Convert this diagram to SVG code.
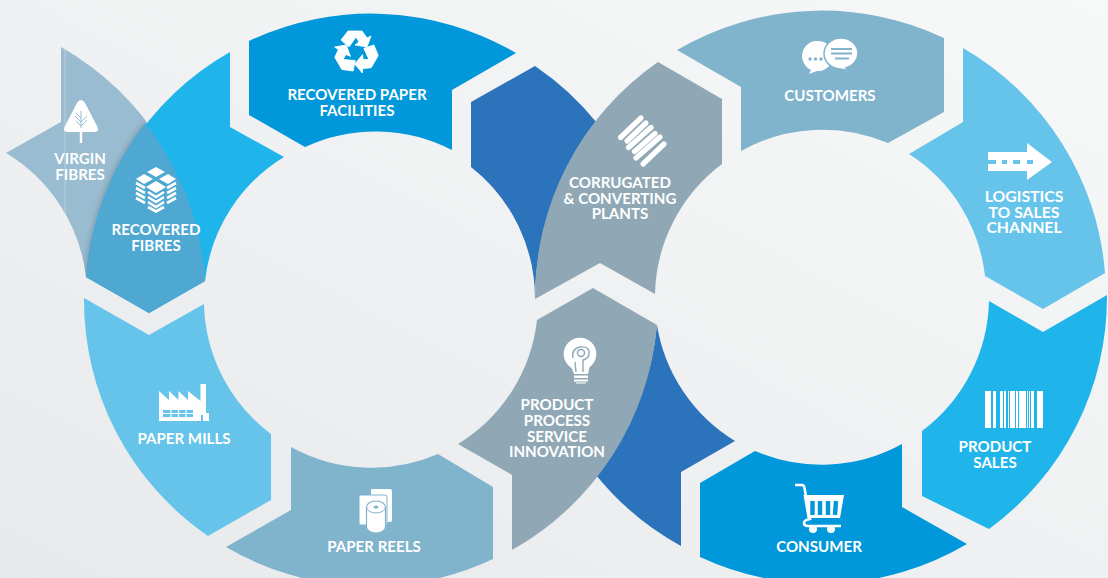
<svg xmlns="http://www.w3.org/2000/svg" xmlns:xlink="http://www.w3.org/1999/xlink" width="1108" height="578" viewBox="0 0 1108 578">
<style>
text{font-family:"Lato","Open Sans","Liberation Sans",sans-serif;font-weight:700;font-size:15.1px;fill:#fff;text-anchor:middle}
.w{fill:#fff}
.navy{fill:#0098da}.cyan{fill:#20b5ea}.sky{fill:#66c4ea}.steel{fill:#80b3cc}.grey{fill:#90a8b5}.dark{fill:#2b73bb}
</style>
<defs>
<linearGradient id="bg" x1="1" y1="0" x2="0" y2="1"><stop offset="0" stop-color="#f7f8f8"/><stop offset="1" stop-color="#e8e9eb"/></linearGradient>
<filter id="blur" x="-30%" y="-30%" width="160%" height="160%"><feGaussianBlur stdDeviation="2"/></filter>
<clipPath id="vclip"><path d="M61 47V122L6 153A167 167 0 0 1 86 277L149 313L205 281A286 286 0 0 0 61 47Z"/></clipPath>
<path id="rec" fill="#fff" stroke="#fff" stroke-width=".8" stroke-linejoin="round" d="M-15 -12L-8 -21H6L11 -14L15 -16L11 -5L-1 -7L3 -10L0 -15L-7 -5Z"/>
</defs>
<rect width="1108" height="578" fill="url(#bg)"/>

<g id="connectors">
<path class="dark" d="M471 102L535 66A286 286 0 0 1 597 123A286 286 0 0 0 535 300A167 167 0 0 0 471 167Z"/>
<path class="dark" d="M657 325A167 167 0 0 0 735 441L681 472V546A286 286 0 0 1 596 475A286 286 0 0 0 657 325Z"/>
</g>

<g id="virgin-fibres">
<path fill="#99bcd0" d="M61 47V122L6 153A167 167 0 0 1 86 277L149 313L205 281A286 286 0 0 0 61 47Z"/>
<path d="M65 50V256" stroke="#fff" stroke-opacity=".3" stroke-width="1" fill="none"/>
<g clip-path="url(#vclip)"><path d="M86 277A286 286 0 0 1 145 123" fill="none" stroke="#5f6a72" stroke-opacity=".4" stroke-width="3.500" filter="url(#blur)"/></g>
<path class="w" d="M81 100Q83 100 85 103L97 126Q100 132 94 132L82.200 132V143H79.800V132L68 132Q62 132 65 126L77 103Q79 100 81 100Z"/>
<path d="M81 111V128M81 122L75 116M81 118L76 113M81 126L76 121M81 122L87 116M81 126L87 120" stroke="#99bcd0" stroke-width="1" fill="none"/>
<text><tspan x="80" y="164">VIRGIN</tspan><tspan x="80" y="180">FIBRES</tspan></text>
</g>

<g id="recovered-fibres">
<path class="cyan" d="M230 52V127L284 157A167 167 0 0 0 205 281L149 313L86 277A286 286 0 0 1 230 52Z"/>
<path fill="#4fa8d2" d="M145 123A286 286 0 0 1 205 281L149 313L86 277A286 286 0 0 1 145 123Z"/>
<path class="w" d="M156 167L165 172L156 177L147 172ZM144 174L153 179L144 184L136 179ZM168 174L176 179L168 184L159 179ZM156 181L166 187L156 193L146 187Z"/>
<path d="M148 192L156 197L164 192M148 197L156 202L164 197M148 202L156 207L164 202M148 207L156 211.500L164 207M136 183L145 188M136 188L145 193M136 193L145 198M136 198L145 203M176 183L167 188M176 188L167 193M176 193L167 198M176 198L167 203" stroke="#fff" stroke-width="2.600" fill="none"/>
<text><tspan x="156" y="235">RECOVERED</tspan><tspan x="156" y="251">FIBRES</tspan></text>
</g>

<g id="recovered-paper-facilities">
<path class="navy" d="M249 41A286 286 0 0 1 516 53L452 90V150A167 167 0 0 0 305 147L249 115Z"/>
<g transform="translate(356 52)"><use xlink:href="#rec"/><use xlink:href="#rec" transform="rotate(120)"/><use xlink:href="#rec" transform="rotate(240)"/></g>
<text><tspan x="357" y="100">RECOVERED PAPER</tspan><tspan x="357" y="116">FACILITIES</tspan></text>
</g>

<g id="corrugated-plants">
<path class="grey" d="M535 299A286 286 0 0 1 658 62L722 99V164A167 167 0 0 0 655 294L600 263Z"/>
<path d="M620.500 137.500L641 118M627 141L646 123M628.500 147.500L651 127.500M634.500 151.500L655 133.500M636 158L660 137M643 164L664 144" stroke="#fff" stroke-width="5.200" stroke-linecap="round" fill="none"/>
<text><tspan x="620" y="188">CORRUGATED</tspan><tspan x="620" y="204">&amp; CONVERTING</tspan><tspan x="620" y="219">PLANTS</tspan></text>
</g>

<g id="product-innovation">
<path class="grey" d="M537 320L593 288L657 325A286 286 0 0 1 512 550V475L458 444A167 167 0 0 0 537 320Z"/>
<circle class="w" cx="580" cy="354" r="16.300"/>
<path class="w" d="M570 364H590L588 374H574ZM574 375.500H588V378H574ZM574 379.500H588V381.500H574ZM576 382.500H586V383.500H576Z"/>
<path d="M573 358Q571 349 580 347Q590 346 589 354Q588 359 583 360V372M575 362L576 372" stroke="#90a8b5" stroke-width="1.400" fill="none"/>
<circle cx="581" cy="353" r="3.500" fill="none" stroke="#90a8b5" stroke-width="1.400"/>
<text><tspan x="557" y="410">PRODUCT</tspan><tspan x="557" y="426">PROCESS</tspan><tspan x="557" y="442">SERVICE</tspan><tspan x="557" y="457">INNOVATION</tspan></text>
</g>

<g id="customers">
<path class="steel" d="M677 50A286 286 0 0 1 944 38V112L888 143A167 167 0 0 0 741 151V87Z"/>
<path class="w" d="M817 41A15 15 0 0 1 833 56A15 15 0 0 1 817 71L809 74L811 70A15 15 0 0 1 802 56A15 15 0 0 1 817 41Z"/>
<path class="w" d="M841 38A17 15.500 0 0 1 858 53.500A17 15.500 0 0 1 846 68L852 71L840 69A17 15.500 0 0 1 824 53.500A17 15.500 0 0 1 841 38Z" stroke="#80b3cc" stroke-width="1.500"/>
<path d="M831 49H852M831 53.500H852M835 58.500H849" stroke="#80b3cc" stroke-width="1.800" fill="none"/>
<g fill="#80b3cc"><circle cx="810" cy="59" r="1.700"/><circle cx="815.500" cy="59" r="1.700"/><circle cx="821" cy="59" r="1.700"/></g>
<text x="830" y="101">CUSTOMERS</text>
</g>

<g id="logistics">
<path class="sky" d="M963 48V122L909 154A167 167 0 0 1 985 276L1043 309L1105 273A286 286 0 0 0 963 48Z"/>
<path class="w" d="M988 152H1027V143L1052 162L1027 180V171H988Z"/>
<path d="M988 162H996M1002 162H1007M1013 162H1020M1027 162H1033" stroke="#66c4ea" stroke-width="4" fill="none"/>
<text style="font-size:15.800px"><tspan x="1024" y="202">LOGISTICS</tspan><tspan x="1024" y="218">TO SALES</tspan><tspan x="1024" y="233">CHANNEL</tspan></text>
</g>

<g id="product-sales">
<path class="cyan" d="M989 301L1043 332L1107 295A287 287 0 0 1 989 529L922 496V431A167 167 0 0 0 989 301Z"/>
<path class="w" d="M985 391h6v37h-6zM993 391h3v37h-3zM1000 391h3v37h-3zM1004 391h2v37h-2zM1008 391h1v37h-1zM1010 391h5v37h-5zM1016 391h2v37h-2zM1019 391h7v37h-7zM1027 391h1v37h-1zM1029 391h1v37h-1zM1031 391h3v37h-3zM1037 391h6v37h-6z"/>
<text><tspan x="995" y="452">PRODUCT</tspan><tspan x="995" y="468">SALES</tspan></text>
</g>

<g id="consumer">
<path class="navy" d="M700 483L755 451A167 167 0 0 0 902 444V507L967 544A287 287 0 0 1 700 557Z"/>
<path d="M795 485H802Q804 485 804.500 488L810 519Q804 520 804 523Q804 526 808 526H841" fill="none" stroke="#fff" stroke-width="2.600"/>
<path class="w" d="M803.500 495H844L840 518H807.500Z"/>
<path d="M812.500 501V515M820 501V515M828 501V515M836 501L835 515" stroke="#0098da" stroke-width="4.400" fill="none"/>
<circle class="w" cx="813" cy="529" r="4"/><circle class="w" cx="831" cy="529" r="4"/>
<text x="819" y="552">CONSUMER</text>
</g>

<g id="paper-mills">
<path class="sky" d="M84 298L149 335L204 304A167 167 0 0 0 271 434V500L208 536A286 286 0 0 1 84 298Z"/>
<path class="w" d="M159 391L169 400V391L178.500 400V391L188 400V391L200.500 401V384H206V413H209V421H203V415H201V421H159Z"/>
<path d="M163 410H193V417H163Z" fill="#66c4ea"/>
<path d="M163 413.500H193M171 410V417M178.500 410V417M186 410V417" stroke="#fff" stroke-width="1.200" fill="none"/>
<text x="184" y="444">PAPER MILLS</text>
</g>

<g id="paper-reels">
<path class="steel" d="M291 447A167 167 0 0 0 438 454L493 487V559A286 286 0 0 1 226 547L291 510Z"/>
<path class="w" d="M371 490Q371 489 373 489H390Q392 489 392 491V520Q392 522 390 522H371Z"/>
<path class="w" d="M359 496Q359 495 361 495H385Q387 495 387 497V525H361Q359 525 359 523Z" stroke="#80b3cc" stroke-width="1"/>
<path class="w" d="M366.500 507A9.500 6 0 0 1 385.500 507V527A9.500 6 0 0 1 366.500 527Z" stroke="#80b3cc" stroke-width="1.200"/>
<path d="M366.500 507A9.500 6 0 0 0 385.500 507" fill="none" stroke="#80b3cc" stroke-width="1"/>
<ellipse cx="376" cy="507" rx="2.500" ry="1.500" fill="#80b3cc"/>
<text x="374" y="552">PAPER REELS</text>
</g>
</svg>
